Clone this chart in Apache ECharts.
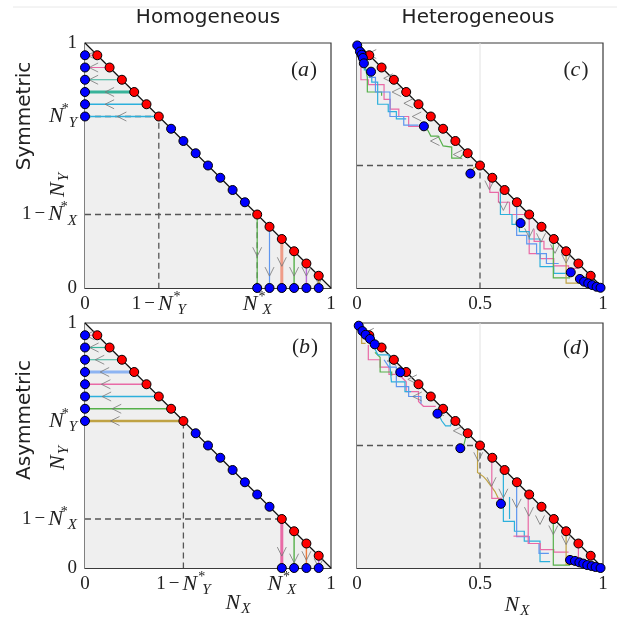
<!DOCTYPE html>
<html>
<head>
<meta charset="utf-8">
<script src="https://cdn.jsdelivr.net/npm/echarts@6/dist/echarts.min.js"></script>
<style>
  html, body { margin: 0; padding: 0; background: #fff; }
  #chart { width: 617px; height: 617px; }
</style>
</head>
<body>
<div id="chart"></div>
<script>
// ---- panel (a): homogeneous / symmetric  (N_X* = N_Y* = 0.7)
const aUpperX = [0.05, 0.1, 0.15, 0.2, 0.25, 0.3]
const aMidX = [0.35, 0.4, 0.45, 0.5, 0.55, 0.6, 0.65]
const aLowerX = [0.7, 0.75, 0.8, 0.85, 0.9, 0.95]
const aArrowX = [0.028, 0.035, 0.035, 0.1, 0.1, 0.15]
const aArrowY = [0.148, 0.067, 0.107, 0.067, 0.067, 0.033]
const aNx = 0.7, aNy = 0.7
const aXTicks = [0, 0.3, 0.7, 1]
const aXLabels = ['{n|0}', '{n|1}{m|−}{i|N}{s|*}{b|Y}', '{i|N}{s|*}{b|X}', '{n|1}']
const aYTicks = [0, 0.3, 0.7, 1]
const aYLabels = ['{n|0}', '{n|1}{m|−}{i|N}{s|*}{b|X}', '{i|N}{s|*}{b|Y}', '{n|1}']

// ---- panel (b): homogeneous / asymmetric  (N_X* = 0.8, N_Y* = 0.6)
const bUpperX = [0.05, 0.1, 0.15, 0.2, 0.25, 0.3, 0.35, 0.4]
const bMidX = [0.45, 0.5, 0.55, 0.6, 0.65, 0.7, 0.75]
const bLowerX = [0.8, 0.85, 0.9, 0.95]
const bArrowX = [0.02, 0.037, 0.06, 0.08, 0.085, 0.088, 0.129, 0.122]
const bArrowY = [0.067, 0.04, 0.05, 0.02]
const bNx = 0.8, bNy = 0.6
const bXTicks = [0, 0.4, 0.8, 1]
const bXLabels = ['{n|0}', '{n|1}{m|−}{i|N}{s|*}{b|Y}', '{i|N}{s|*}{b|X}', '{n|1}']
const bYTicks = [0, 0.2, 0.6, 1]
const bYLabels = ['{n|0}', '{n|1}{m|−}{i|N}{s|*}{b|X}', '{i|N}{s|*}{b|Y}', '{n|1}']

// ---- panels (c), (d): heterogeneous
const hetRedX = [0.05, 0.1, 0.15, 0.2, 0.25, 0.3, 0.35, 0.4, 0.45, 0.5,
  0.55, 0.6, 0.65, 0.7, 0.75, 0.8, 0.85, 0.9, 0.95]
const hetXTicks = [0, 0.5, 1]
const hetXLabels = ['{n|0}', '{n|0.5}', '{n|1}']

const cBlue = [[0.001, 0.99], [0.012, 0.965], [0.019, 0.952], [0.024, 0.939], [0.028, 0.917],
  [0.057, 0.883], [0.272, 0.66], [0.461, 0.467], [0.665, 0.265], [0.869, 0.064],
  [0.906, 0.037], [0.923, 0.026], [0.94, 0.019], [0.956, 0.012], [0.974, 0.005], [0.99, 0.001]]
const cPaths = [
  [[0.015, 0.96], [0.015, 0.93], [0.03, 0.93]],
  [[0.016, 0.94], [0.016, 0.85], [0.046, 0.85], [0.046, 0.83], [0.11, 0.83], [0.11, 0.77], [0.135, 0.77], [0.135, 0.73], [0.17, 0.73], [0.17, 0.70], [0.21, 0.70], [0.21, 0.66], [0.27, 0.66]],
  [[0.03, 0.92], [0.042, 0.86], [0.042, 0.80], [0.10, 0.80], [0.10, 0.785]],
  [[0.03, 0.92], [0.03, 0.89], [0.06, 0.89], [0.06, 0.84], [0.084, 0.84], [0.084, 0.75], [0.127, 0.75], [0.127, 0.72], [0.16, 0.72], [0.16, 0.69], [0.2, 0.69]],
  [[0.05, 0.89], [0.05, 0.86], [0.075, 0.86], [0.075, 0.80], [0.134, 0.80], [0.134, 0.70], [0.19, 0.70], [0.19, 0.665], [0.25, 0.665]],
  [[0.28, 0.655], [0.29, 0.64], [0.30, 0.62], [0.33, 0.62], [0.35, 0.58], [0.385, 0.575], [0.385, 0.53], [0.42, 0.53], [0.43, 0.545]],
  [[0.461, 0.467], [0.475, 0.49], [0.5, 0.5]],
  [[0.54, 0.44], [0.54, 0.39], [0.575, 0.39], [0.575, 0.35], [0.62, 0.35], [0.62, 0.30], [0.70, 0.30], [0.70, 0.14], [0.745, 0.14], [0.745, 0.12], [0.80, 0.12], [0.80, 0.09], [0.86, 0.09], [0.86, 0.08], [0.9, 0.08]],
  [[0.583, 0.39], [0.583, 0.30], [0.63, 0.30], [0.63, 0.26], [0.66, 0.26], [0.66, 0.23], [0.70, 0.23], [0.70, 0.20], [0.744, 0.20], [0.744, 0.087], [0.80, 0.087], [0.80, 0.06], [0.86, 0.06]],
  [[0.649, 0.33], [0.649, 0.215], [0.69, 0.215], [0.69, 0.18], [0.73, 0.18], [0.73, 0.14], [0.77, 0.14], [0.77, 0.10], [0.82, 0.10]],
  [[0.72, 0.24], [0.72, 0.19], [0.76, 0.19], [0.76, 0.16], [0.80, 0.16]],
  [[0.798, 0.19], [0.798, 0.041], [0.866, 0.041]],
  [[0.85, 0.14], [0.85, 0.02], [0.90, 0.02]]
]
const cPathColors = ['olive', 'pink', 'green', 'cyan', 'blue', 'green', 'olive',
  'pink', 'cyan', 'blue', 'pink', 'green', 'olive']
const cLeftArrows = [[0.06, 0.955], [0.127, 0.856], [0.161, 0.80], [0.209, 0.754], [0.243, 0.70], [0.317, 0.60], [0.41, 0.545]]
const cDownArrows = [[0.538, 0.42], [0.595, 0.335], [0.70, 0.225], [0.748, 0.205], [0.805, 0.16], [0.85, 0.12]]

const dBlue = [[0.007, 0.989], [0.022, 0.967], [0.035, 0.952], [0.053, 0.935], [0.072, 0.913],
  [0.176, 0.799], [0.327, 0.63], [0.42, 0.489], [0.585, 0.262],
  [0.866, 0.033], [0.886, 0.029], [0.904, 0.023], [0.92, 0.018], [0.936, 0.012], [0.954, 0.008], [0.97, 0.004], [0.99, 0.0]]
const dPaths = [
  [[0.019, 0.96], [0.019, 0.917], [0.035, 0.917]],
  [[0.046, 0.91], [0.046, 0.85], [0.094, 0.85], [0.094, 0.82], [0.13, 0.82], [0.13, 0.79], [0.17, 0.79], [0.2, 0.76], [0.2, 0.72], [0.25, 0.72], [0.25, 0.68], [0.27, 0.66], [0.32, 0.66]],
  [[0.073, 0.88], [0.094, 0.86], [0.094, 0.80], [0.141, 0.80], [0.141, 0.785]],
  [[0.07, 0.9], [0.085, 0.87], [0.13, 0.87], [0.14, 0.76], [0.195, 0.76], [0.195, 0.72], [0.22, 0.72]],
  [[0.11, 0.85], [0.13, 0.82], [0.16, 0.82], [0.16, 0.74], [0.21, 0.74], [0.21, 0.70], [0.26, 0.70], [0.26, 0.67]],
  [[0.33, 0.63], [0.345, 0.60], [0.36, 0.58], [0.38, 0.58], [0.385, 0.595], [0.40, 0.595]],
  [[0.445, 0.545], [0.435, 0.505], [0.42, 0.49]],
  [[0.5, 0.5], [0.49, 0.48], [0.49, 0.39], [0.514, 0.373], [0.527, 0.359], [0.541, 0.339], [0.561, 0.312], [0.581, 0.27]],
  [[0.548, 0.44], [0.548, 0.284], [0.59, 0.284]],
  [[0.595, 0.39], [0.595, 0.19], [0.64, 0.19], [0.64, 0.15], [0.68, 0.15], [0.68, 0.11], [0.744, 0.11], [0.744, 0.026], [0.785, 0.026]],
  [[0.649, 0.36], [0.649, 0.128], [0.70, 0.128], [0.70, 0.10], [0.74, 0.10], [0.74, 0.06], [0.78, 0.06]],
  [[0.696, 0.29], [0.696, 0.10], [0.745, 0.10], [0.745, 0.075], [0.80, 0.075], [0.80, 0.065], [0.86, 0.065]],
  [[0.636, 0.13], [0.696, 0.13]],
  [[0.62, 0.29], [0.62, 0.20]],
  [[0.798, 0.196], [0.798, 0.012], [0.866, 0.012]],
  [[0.85, 0.14], [0.85, 0.015], [0.895, 0.015]],
  [[0.9, 0.1], [0.9, 0.005]]
]
const dPathColors = ['olive', 'pink', 'green', 'cyan', 'blue', 'cyan', 'green',
  'olive', 'pink', 'cyan', 'blue', 'pink', 'pink', 'cyan', 'green', 'olive', 'pink']
const dLeftArrows = [[0.05, 0.96], [0.141, 0.845], [0.225, 0.77], [0.245, 0.70], [0.335, 0.64], [0.41, 0.56]]
const dDownArrows = [[0.493, 0.454], [0.547, 0.352], [0.595, 0.305], [0.649, 0.264], [0.699, 0.23], [0.744, 0.196], [0.798, 0.155], [0.85, 0.114]]

// ---- styles
const SERIF = 'Liberation Serif'
const SANS = 'DejaVu Sans'
const INK = '#222'
const FRAME = '#3a3a3a'
const PAL = {
  pink: '#e96aa6', green: '#55b04a', teal: '#38b39a', cyan: '#2cb0dc', blue: '#5f96ef',
  salmon: '#ef9c88', purple: '#b86ad8', olive: '#bfa244', orange: '#ec7a3c', lblue: '#8db4f2'
}
// line colour / width for each horizontal (upper) and vertical (lower) drop
const aHStyle = [['pink', 1], ['pink', 1], ['teal', 1.2], ['teal', 3], ['cyan', 1.4], ['cyan', 1.4]]
const aVStyle = [['green', 1.2], ['blue', 1.2], ['salmon', 3], ['green', 1.4], ['purple', 1.4], ['olive', 1.4]]
const bHStyle = [['pink', 1], ['teal', 1.2], ['teal', 1.2], ['lblue', 3], ['pink', 1.4], ['cyan', 1.4], ['green', 1.6], ['olive', 2.4]]
const bVStyle = [['pink', 3], ['green', 1.4], ['orange', 1.4], ['purple', 1.4]]

const RICH = {
  n: { fontFamily: SERIF, fontSize: 19, color: INK, lineHeight: 28 },
  m: { fontFamily: SERIF, fontSize: 19, color: INK, lineHeight: 28, padding: [0, 3, 0, 3] },
  i: { fontFamily: SERIF, fontStyle: 'italic', fontSize: 22, color: INK, lineHeight: 28, padding: [0, 1, 0, 0] },
  s: { fontFamily: SERIF, fontSize: 14, color: INK, verticalAlign: 'top', lineHeight: 13, width: 1, padding: [0, 0, 0, 3] },
  b: { fontFamily: SERIF, fontStyle: 'italic', fontSize: 15, color: INK, verticalAlign: 'bottom', lineHeight: 15 },
  p: { fontFamily: SERIF, fontSize: 21, color: INK },
  t: { fontFamily: SANS, fontSize: 20, color: INK }
}

const LEFT = 'path://M10,0L0,6L10,12'
const DOWN = 'path://M0,0L6,10L12,0'

const grids = [
  { left: 85, top: 43, width: 246, height: 245 },
  { left: 85, top: 323, width: 246, height: 245 },
  { left: 357, top: 43, width: 246, height: 245 },
  { left: 357, top: 323, width: 246, height: 245 }
].map(g => ({ ...g, show: true, borderColor: FRAME, borderWidth: 1.2, backgroundColor: '#fff' }))

function labelOf(v, ticks, labels) {
  const k = ticks.findIndex(t => Math.abs(t - v) < 1e-6)
  return k < 0 ? '' : labels[k]
}

function axis(i, ticks, labels, isY) {
  return {
    gridIndex: i, type: 'value', min: 0, max: 1,
    splitLine: { show: false },
    axisLine: { show: true, onZero: false, lineStyle: { color: FRAME, width: 1.2 } },
    axisTick: { show: true, inside: true, length: 4, customValues: ticks.slice(1, -1), lineStyle: { color: FRAME } },
    axisLabel: {
      show: labels.length > 0, customValues: ticks, margin: isY ? 8 : 2,
      formatter: v => labelOf(v, ticks, labels), rich: RICH
    }
  }
}

function base(i, extra) {
  return { xAxisIndex: i, yAxisIndex: i, silent: true, animation: false, ...extra }
}

function commonSeries(i) {
  return [
    base(i, {
      type: 'line', data: [[0, 1], [1, 0]], symbol: 'none', z: 1,
      lineStyle: { color: '#111', width: 1.2 }, areaStyle: { color: '#efefef', opacity: 1 }
    })
  ]
}

function dashed(i, pts) {
  return base(i, {
    type: 'line', data: pts, symbol: 'none', z: 2,
    lineStyle: { color: '#555', width: 1.3, type: [6, 4] }
  })
}

function paths(i, list, colors, widths) {
  return base(i, {
    type: 'lines', coordinateSystem: 'cartesian2d', polyline: true, z: 3,
    data: list.map((p, k) => ({ coords: p, lineStyle: { color: PAL[colors[k]], width: widths ? widths[k] : 1.2, opacity: 1 } }))
  })
}

function chevrons(i, pts, sym) {
  return base(i, {
    type: 'scatter', data: pts, symbol: sym, symbolSize: [9, 9], z: 4, clip: false,
    itemStyle: { color: 'rgba(0,0,0,0)', borderColor: '#777', borderWidth: 1 }
  })
}

function dots(i, pts, color) {
  return base(i, {
    type: 'scatter', data: pts, symbolSize: 9, z: 6, clip: false,
    itemStyle: { color, borderColor: '#000', borderWidth: 1, opacity: 1 }
  })
}

function homo(i, up, mid, low, arrX, arrY, nx, ny, hStyle, vStyle) {
  const horiz = up.map(x => [[x, 1 - x], [0, 1 - x]])
  const vert = low.map(x => [[x, 1 - x], [x, 0]])
  return [
    ...commonSeries(i),
    dashed(i, [[0, ny], [1 - ny, ny], [1 - ny, 0]]),
    dashed(i, [[0, 1 - nx], [nx, 1 - nx], [nx, 0]]),
    paths(i, horiz, hStyle.map(s => s[0]), hStyle.map(s => s[1])),
    paths(i, vert, vStyle.map(s => s[0]), vStyle.map(s => s[1])),
    chevrons(i, up.map((x, k) => [arrX[k], 1 - x]), LEFT),
    chevrons(i, low.map((x, k) => [x, arrY[k]]), DOWN),
    dots(i, up.concat(low).map(x => [x, 1 - x]), '#ff0000'),
    dots(i, up.map(x => [0, 1 - x]).concat(mid.map(x => [x, 1 - x]), low.map(x => [x, 0])), '#0000ff')
  ]
}

function hetero(i, blue, list, colors, leftArr, downArr) {
  return [
    ...commonSeries(i),
    base(i, { type: 'line', data: [[0.5, 0.5], [0.5, 1]], symbol: 'none', z: 1, lineStyle: { color: '#e2e2e2', width: 1 } }),
    dashed(i, [[0, 0.5], [0.5, 0.5], [0.5, 0]]),
    paths(i, list, colors),
    chevrons(i, leftArr, LEFT),
    chevrons(i, downArr, DOWN),
    dots(i, hetRedX.map(x => [x, 1 - x]), '#ff0000'),
    dots(i, blue, '#0000ff')
  ]
}

function txt(x, y, text, rot) {
  return {
    type: 'text', x, y, rotation: rot || 0, silent: true,
    style: { text, align: 'center', verticalAlign: 'middle', rich: RICH, fill: INK }
  }
}

const chart = echarts.init(document.getElementById('chart'))
chart.setOption({
  animation: false,
  backgroundColor: '#fff',
  grid: grids,
  xAxis: [
    axis(0, aXTicks, aXLabels), axis(1, bXTicks, bXLabels),
    axis(2, hetXTicks, hetXLabels), axis(3, hetXTicks, hetXLabels)
  ],
  yAxis: [
    axis(0, aYTicks, aYLabels, true), axis(1, bYTicks, bYLabels, true),
    axis(2, [0, 1], [], true), axis(3, [0, 1], [], true)
  ],
  series: [
    ...homo(0, aUpperX, aMidX, aLowerX, aArrowX, aArrowY, aNx, aNy, aHStyle, aVStyle),
    ...homo(1, bUpperX, bMidX, bLowerX, bArrowX, bArrowY, bNx, bNy, bHStyle, bVStyle),
    ...hetero(2, cBlue, cPaths, cPathColors, cLeftArrows, cDownArrows),
    ...hetero(3, dBlue, dPaths, dPathColors, dLeftArrows, dDownArrows)
  ],
  graphic: [
    { type: 'line', silent: true, shape: { x1: 13, y1: 7, x2: 617, y2: 7 }, style: { stroke: '#e8e8e8', lineWidth: 1 } },
    txt(208, 18, '{t|Homogeneous}'),
    txt(478, 18, '{t|Heterogeneous}'),
    txt(25, 116, '{t|Symmetric}', Math.PI / 2),
    txt(25, 420, '{t|Asymmetric}', Math.PI / 2),
    txt(58, 185, '{i|N}{b|Y}', Math.PI / 2),
    txt(58, 458, '{i|N}{b|Y}', Math.PI / 2),
    txt(238, 603, '{i|N}{b|X}'),
    txt(517, 605, '{i|N}{b|X}'),
    txt(304, 70, '{p|(}{i|a}{p|)}'),
    txt(305, 347, '{p|(}{i|b}{p|)}'),
    txt(576, 70, '{p|(}{i|c}{p|)}'),
    txt(576, 348, '{p|(}{i|d}{p|)}')
  ]
})
</script>
</body>
</html>
